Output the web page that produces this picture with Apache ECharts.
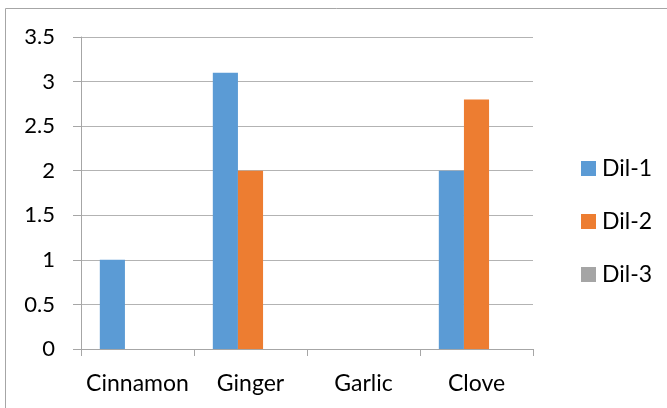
<!DOCTYPE html>
<html>
<head>
<meta charset="utf-8">
<script src="https://cdn.jsdelivr.net/npm/echarts@6/dist/echarts.min.js"></script>
<style>
  html, body { margin: 0; padding: 0; background: #fff; }
  #chart { width: 667px; height: 408px; }
</style>
</head>
<body>
<div id="chart"></div>
<script>
// Spice extracts and the three dilutions tested
const categories = ['Cinnamon', 'Ginger', 'Garlic', 'Clove'];
const seriesNames = ['Dil-1', 'Dil-2', 'Dil-3'];
const dil1 = [1, 3.1, 0, 2];
const dil2 = [0, 2, 0, 2.8];
const dil3 = [0, 0, 0, 0];
const yTicks = [0, 0.5, 1, 1.5, 2, 2.5, 3, 3.5];

const palette = ['#5b9bd5', '#ed7d31', '#a5a5a5'];
const FONT = 'Lato';

const chart = echarts.init(document.getElementById('chart'), null, { renderer: 'canvas' });

const values = [dil1, dil2, dil3];

chart.setOption({
  animation: false,
  color: palette,
  textStyle: { fontFamily: FONT },
  graphic: [{
    type: 'rect',
    shape: { x: 5.5, y: 8.5, width: 720, height: 460 },
    style: { fill: null, stroke: '#a6a6a6', lineWidth: 1 },
    silent: true,
    z: -1
  }],
  grid: { left: 81, right: 134, top: 37, bottom: 59, containLabel: false },
  legend: {
    orient: 'vertical',
    left: 576,
    top: 152,
    itemWidth: 15,
    itemHeight: 15,
    itemGap: 30,
    icon: 'rect',
    data: seriesNames,
    textStyle: { fontFamily: FONT, fontSize: 23, color: '#000', padding: [0, 0, 0, 1] }
  },
  xAxis: {
    type: 'category',
    data: categories,
    axisLine: { lineStyle: { color: '#a6a6a6', width: 1 } },
    axisTick: { show: true, length: 7, lineStyle: { color: '#a6a6a6' } },
    axisLabel: { interval: 0, fontFamily: FONT, fontSize: 23, color: '#000', margin: 23 },
    splitLine: { show: false }
  },
  yAxis: {
    type: 'value',
    min: yTicks[0],
    max: yTicks[yTicks.length - 1],
    interval: 0.5,
    axisLine: { show: true, lineStyle: { color: '#a6a6a6', width: 1 } },
    axisTick: { show: true, length: 8, lineStyle: { color: '#a6a6a6' } },
    axisLabel: { fontFamily: FONT, fontSize: 22, color: '#000', margin: 26, padding: [5, 0, 0, 0] },
    splitLine: { show: true, lineStyle: { color: '#b3b3b3', width: 1 } }
  },
  series: seriesNames.map((name, i) => ({
    name,
    type: 'bar',
    data: values[i],
    barGap: '0%',
    barCategoryGap: '33.3%'
  }))
});
</script>
</body>
</html>
